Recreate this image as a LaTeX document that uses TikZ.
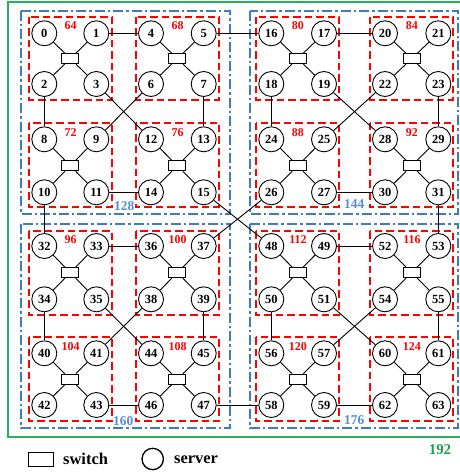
\documentclass[tikz,border=0pt]{standalone}
\usepackage{fontspec}
\setmainfont{Liberation Serif}
\usetikzlibrary{calc}
\definecolor{blueC}{RGB}{61,125,191}
\definecolor{blueT}{RGB}{84,141,212}
\definecolor{greenC}{RGB}{40,175,95}
\definecolor{greenT}{RGB}{30,160,80}
\tikzset{
  server/.style={circle,draw=black,line width=0.9bp,fill=white,minimum size=25bp,inner sep=0pt,
     font=\bfseries\fontsize{12.5}{13}\selectfont},
  switchbox/.style={rectangle,draw=black,line width=1bp,fill=white,minimum width=17bp,minimum height=10bp,inner sep=0pt},
  link/.style={draw=black,line width=0.9bp},
  redbox/.style={draw=red,line width=2.6bp,dash pattern=on 7.5bp off 4bp},
  bluebox/.style={draw=blueC,line width=2.5bp,dash pattern=on 10bp off 3bp on 2.5bp off 3bp},
  grouplabel/.style={text=red,font=\bfseries\fontsize{12}{12}\selectfont,inner sep=0pt},
  bluelabel/.style={text=blueT,font=\bfseries\fontsize{13.5}{14}\selectfont,inner sep=0pt},
  greenlabel/.style={text=greenT,font=\bfseries\fontsize{15}{15}\selectfont,inner sep=0pt},
  legendtext/.style={font=\bfseries\fontsize{16.5}{17}\selectfont,inner sep=0pt,anchor=west},
}
\begin{document}
\begin{tikzpicture}[x=1bp,y=-1bp]
\useasboundingbox (0,0) rectangle (460,473);
\def\colx{{44.3,96.3,151,203.7,271.3,324,385,438.3}}
\def\rowy{{33.3,84,139.3,192.3,246,299.3,353.3,405}}
\def\rxl{{29,136,256,370}}
\def\rxr{{112,219,339,453}}
\def\ryt{{17,123,231,337}}
\def\ryb{{100,207,315,421}}
% green outer frame
\draw[draw=greenC,line width=1.4bp] (462,2) -- (8,2) -- (8,437) -- (462,437);
\node[greenlabel] (g192) at (440,449.5) {192};
% blue boxes
\draw[bluebox] (21,11) rectangle (230,214);
\draw[bluebox] (250,11) rectangle (458,214);
\draw[bluebox] (21,224) rectangle (230,428);
\draw[bluebox] (250,224) rectangle (458,428);
\node[bluelabel] (b128) at (124.3,205.7) {128};
\node[bluelabel] (b144) at (354.3,204.5) {144};
\node[bluelabel] (b160) at (123.3,421.5) {160};
\node[bluelabel] (b176) at (354.3,420.5) {176};
% servers
\foreach \B in {0,...,3}{
 \foreach \g in {0,...,3}{
  \foreach \s in {0,...,3}{
    \pgfmathtruncatemacro\n{16*\B+4*\g+\s}
    \pgfmathtruncatemacro\ci{4*mod(\B,2)+2*mod(\g,2)+mod(\s,2)}
    \pgfmathtruncatemacro\ri{4*div(\B,2)+2*div(\g,2)+div(\s,2)}
    \pgfmathsetmacro\xx{\colx[\ci]}
    \pgfmathsetmacro\yy{\rowy[\ri]}
    \node[server] (s\n) at (\xx,\yy) {\n};
  }}}
% groups: switch, red box, label, links
\foreach \G in {0,...,15}{
  \pgfmathtruncatemacro\a{4*\G}
  \pgfmathtruncatemacro\b{4*\G+1}
  \pgfmathtruncatemacro\c{4*\G+2}
  \pgfmathtruncatemacro\d{4*\G+3}
  \pgfmathtruncatemacro\lab{64+4*\G}
  \pgfmathtruncatemacro\cg{2*mod(div(\G,4),2)+mod(mod(\G,4),2)}
  \pgfmathtruncatemacro\rg{2*div(div(\G,4),2)+div(mod(\G,4),2)}
  \pgfmathsetmacro\xa{\rxl[\cg]}
  \pgfmathsetmacro\xb{\rxr[\cg]}
  \pgfmathsetmacro\ya{\ryt[\rg]}
  \pgfmathsetmacro\yb{\ryb[\rg]}
  \node[switchbox] (sw\G) at ($(s\a)!0.5!(s\d)$) {};
  \draw[redbox] (\xa,\ya) rectangle (\xb,\yb);
  \node[grouplabel] (gl\G) at ($(sw\G)+(0.3,-33)$) {\lab};
  \foreach \t in {\a,\b,\c,\d}{\draw[link] (sw\G) -- (s\t);}
}
% links inside each blue box
\foreach \B in {0,...,3}{
  \pgfmathtruncatemacro\o{16*\B}
  \foreach \p/\q in {1/4,2/8,3/12,6/9,7/13,11/14}{
    \pgfmathtruncatemacro\u{\o+\p}
    \pgfmathtruncatemacro\v{\o+\q}
    \draw[link] (s\u) -- (s\v);
  }
}
% links between blue boxes
\foreach \u/\v in {5/16,10/32,15/48,26/37,31/53,47/58}{
  \draw[link] (s\u) -- (s\v);
}
% legend
\node[switchbox,minimum width=25bp,minimum height=14bp,line width=1.3bp] (legsw) at (40.8,459.2) {};
\node[legendtext] (legswt) at (63,459.3) {switch};
\node[circle,draw=black,line width=1.3bp,minimum size=21.4bp,inner sep=0pt] (legsv) at (152.7,459) {};
\node[legendtext] (legsvt) at (174,459.3) {server};
\end{tikzpicture}
\end{document}
